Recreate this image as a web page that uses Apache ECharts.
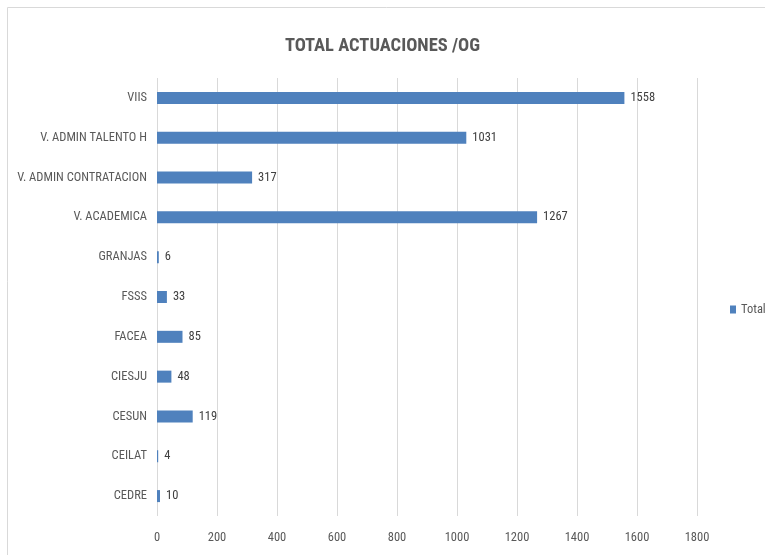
<!DOCTYPE html>
<html><head><meta charset="utf-8">
<script src="https://cdn.jsdelivr.net/npm/echarts@6/dist/echarts.min.js"></script>
<style>html,body{margin:0;padding:0;background:#fff}#c{width:765px;height:555px}</style>
</head><body><div id="c"></div>
<script>
const categories = ["VIIS","V. ADMIN TALENTO H","V. ADMIN CONTRATACION","V. ACADEMICA","GRANJAS","FSSS","FACEA","CIESJU","CESUN","CEILAT","CEDRE"];
const totals = [1558,1031,317,1267,6,33,85,48,119,4,10];
const xTicks = [0,200,400,600,800,1000,1200,1400,1600,1800];
const FONT = '"Liberation Sans Narrow","Arial Narrow","Roboto Condensed",Roboto,sans-serif';
const chart = echarts.init(document.getElementById('c'));
chart.setOption({
  animation:false,
  title:{text:'TOTAL ACTUACIONES /OG',left:'center',top:32,textStyle:{fontFamily:FONT,fontSize:18.5,fontWeight:'bold',color:'#595959'}},
  graphic:[{type:'rect',shape:{x:7.5,y:7.5,width:900,height:700},style:{fill:null,stroke:'#d9d9d9',lineWidth:1},silent:true}],
  legend:{data:['Total'],left:725,top:298,orient:'vertical',itemWidth:6,itemHeight:8,itemGap:4,icon:'rect',textStyle:{fontFamily:FONT,fontSize:12.5,color:'#595959'}},
  grid:{left:157,right:68,top:78,bottom:39,containLabel:false},
  xAxis:{type:'value',min:0,max:xTicks[xTicks.length-1],interval:200,
    axisLine:{show:false},axisTick:{show:false},
    splitLine:{lineStyle:{color:'#d9d9d9'}},
    axisLabel:{margin:15,fontFamily:FONT,fontSize:12.5,color:'#595959',formatter:v=>String(v)}},
  yAxis:{type:'category',data:categories,inverse:true,
    axisLine:{show:false},axisTick:{show:false},
    axisLabel:{margin:10,fontFamily:FONT,fontSize:12.5,color:'#595959'}},
  series:[{name:'Total',type:'bar',data:totals,barWidth:12,
    itemStyle:{color:'#4f81bd'},
    label:{show:true,position:'right',distance:6,fontFamily:FONT,fontSize:12.5,color:'#404040'}}]
});
</script></body></html>
